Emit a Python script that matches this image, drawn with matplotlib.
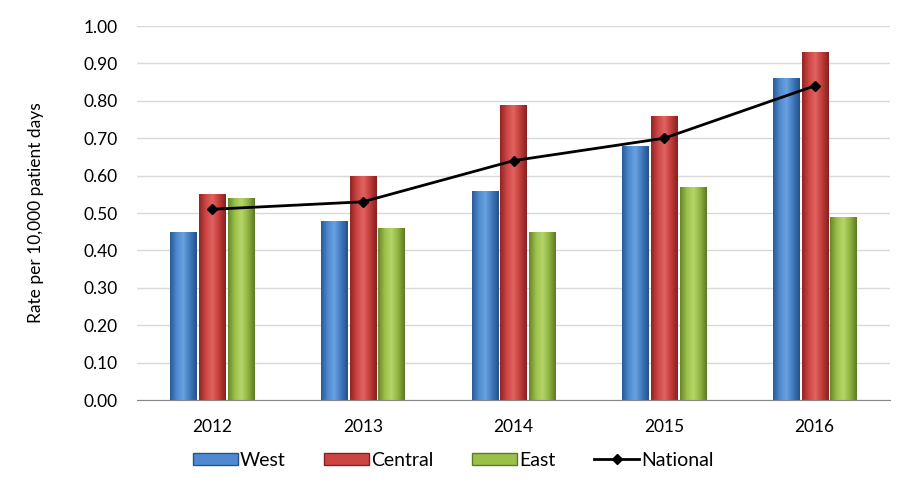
from matplotlib import pyplot as plt
from matplotlib.colors import LinearSegmentedColormap
from matplotlib.lines import Line2D
from matplotlib.patches import Patch
import numpy as np

plt.rcParams['font.family'] = ['Lato', 'DejaVu Sans']

# data
years = ["2012", "2013", "2014", "2015", "2016"]
west = [0.45, 0.48, 0.56, 0.68, 0.86]
central = [0.55, 0.60, 0.79, 0.76, 0.93]
east = [0.54, 0.46, 0.45, 0.57, 0.49]
national = [0.51, 0.53, 0.64, 0.70, 0.84]

series = [
    ("West", west, ["#2a5a95", "#4f8ad0", "#6aa2e0", "#3f78bd", "#25528a"]),
    ("Central", central, ["#902624", "#cd4543", "#e06461", "#c03c3a", "#86211f"]),
    ("East", east, ["#67852a", "#9bc04a", "#b5d66a", "#8fb340", "#5d7a24"]),
]

fig = plt.figure(figsize=(9.12, 4.83), dpi=100)
ax = fig.add_axes([0.1502, 0.1718, 0.8257, 0.7743])

x = np.arange(len(years))
bw = 0.175
offsets = [-0.19, 0.0, 0.19]

handles = []
for (name, vals, cols), off in zip(series, offsets):
    cmap = LinearSegmentedColormap.from_list(name, cols)
    bars = ax.bar(x + off, vals, bw, color=cols[1], edgecolor="none", zorder=2)
    grad = np.linspace(0, 1, 64).reshape(1, -1)
    for b in bars:
        bx, by = b.get_x(), b.get_y()
        im = ax.imshow(grad, cmap=cmap, aspect="auto", zorder=2.1,
                       extent=[bx, bx + b.get_width(), by, by + b.get_height()])
        im.set_clip_path(b)
    handles.append(Patch(facecolor=cols[1], edgecolor=cols[4], label=name))

ax.plot(x, national, color="black", lw=2, marker="D", ms=5, zorder=4)
handles.append(Line2D([0], [0], color="black", lw=2, marker="D", ms=5, label="National"))

ax.set_xlim(-0.5, len(years) - 0.5)
ax.set_ylim(0, 1.0)
ax.set_yticks(np.arange(0, 1.01, 0.1))
ax.set_yticklabels([f"{v:.2f}" for v in np.arange(0, 1.01, 0.1)], fontsize=12.5)
ax.set_xticks(x)
ax.set_xticklabels(years, fontsize=12.5)
ax.tick_params(axis="y", length=0, pad=14)
ax.tick_params(axis="x", length=0, pad=14)
ax.yaxis.grid(True, color="#d9d9d9", lw=1, zorder=0)
ax.set_axisbelow(True)
for s in ["top", "right", "left"]:
    ax.spines[s].set_visible(False)
ax.spines["bottom"].set_color("#868686")
ax.set_ylabel("Rate per 10,000 patient days", fontsize=12.5, labelpad=28)

fig.legend(handles=handles, loc="center", bbox_to_anchor=(0.497, 0.047), ncol=4,
           frameon=False, fontsize=14, handlelength=2.3, handleheight=0.55,
           handletextpad=0.1, columnspacing=2.0)

plt.savefig("out.png", dpi=100)
